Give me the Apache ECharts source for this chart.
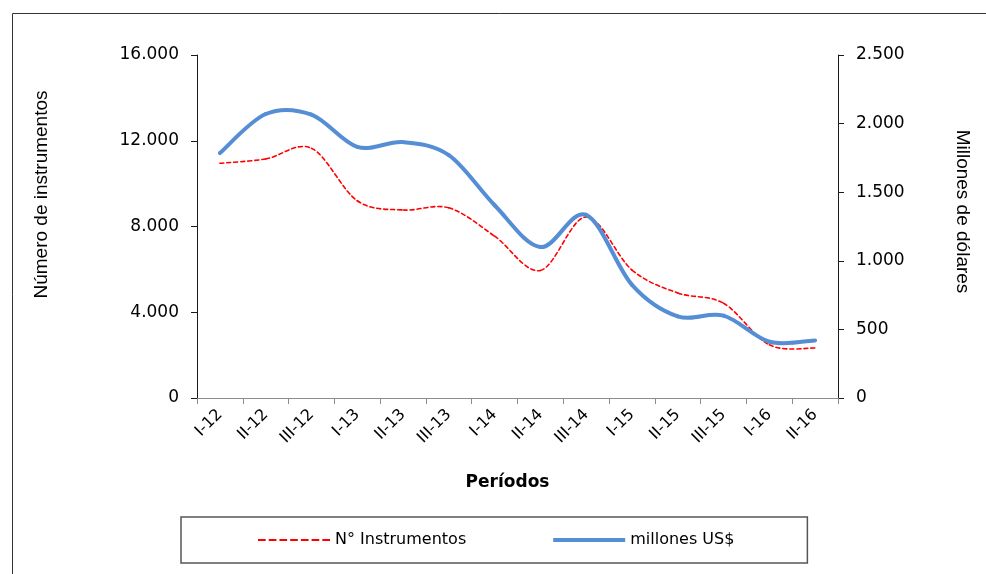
<!DOCTYPE html>
<html>
<head>
<meta charset="utf-8">
<script src="https://cdn.jsdelivr.net/npm/echarts@6/dist/echarts.min.js"></script>
<style>
html,body{margin:0;padding:0;background:#fff;}
#chart{width:986px;height:574px;}
</style>
</head>
<body>
<div id="chart"></div>
<script>
var categories = ['I-12','II-12','III-12','I-13','II-13','III-13','I-14','II-14','III-14','I-15','II-15','III-15','I-16','II-16'];
var instrumentos = [10950, 11150, 11650, 9200, 8770, 8870, 7550, 5950, 8450, 5970, 4900, 4420, 2480, 2330];
var millones = [1785, 2070, 2065, 1830, 1865, 1770, 1405, 1100, 1335, 825, 595, 600, 410, 420];
var leftTicks = { min: 0, max: 16000, interval: 4000 };
var rightTicks = { min: 0, max: 2500, interval: 500 };

function fmt(v) { return String(v).replace(/\B(?=(\d{3})+(?!\d))/g, '.'); }

// Excel-like smoothed line (Catmull-Rom style Bezier through every data point),
// positions obtained from the chart's own axes via api.coord.
function smoothRenderer(values, stroke, width, dash) {
  return function (params, api) {
    if (params.dataIndex !== 0) return;
    var pts = values.map(function (v, i) { return api.coord([i, v]); });
    var t = 1 / 6;
    var children = [];
    for (var i = 0; i < pts.length - 1; i++) {
      var p0 = pts[i - 1] || pts[i], p1 = pts[i], p2 = pts[i + 1], p3 = pts[i + 2] || pts[i + 1];
      children.push({
        type: 'bezierCurve',
        shape: {
          x1: p1[0], y1: p1[1], x2: p2[0], y2: p2[1],
          cpx1: p1[0] + (p2[0] - p0[0]) * t, cpy1: p1[1] + (p2[1] - p0[1]) * t,
          cpx2: p2[0] - (p3[0] - p1[0]) * t, cpy2: p2[1] - (p3[1] - p1[1]) * t
        },
        style: { stroke: stroke, lineWidth: width, fill: null, lineDash: dash || null, lineCap: 'round', lineJoin: 'round' }
      });
    }
    return { type: 'group', children: children };
  };
}

function dashIcon() {
  var d = '';
  for (var k = 0; k < 7; k++) d += 'M' + (k * 10.6) + ',0h7.6v1.8h-7.6z';
  return 'path://' + d;
}

var chart = echarts.init(document.getElementById('chart'), null, { renderer: 'canvas' });
var labelFont = 'DejaVu Sans';
chart.setOption({
  animation: false,
  backgroundColor: '#ffffff',
  graphic: [
    { type: 'rect', shape: { x: 12.5, y: 13.5, width: 1000, height: 600 },
      style: { fill: 'none', stroke: '#333', lineWidth: 1 }, silent: true }
  ],
  grid: { left: 197, right: 148, top: 55, bottom: 176, containLabel: false },
  legend: {
    left: 181, top: 517,
    padding: [15, 73, 15, 77],
    itemGap: 87,
    itemWidth: 72, itemHeight: 16,
    borderColor: '#555', borderWidth: 1.5,
    textStyle: { fontFamily: labelFont, fontSize: 16, color: '#000' },
    data: [
      { name: 'N° Instrumentos', icon: dashIcon() },
      { name: 'millones US$', icon: 'path://M0,0h72v4h-72z' }
    ]
  },
  xAxis: {
    type: 'category', data: categories, boundaryGap: true,
    name: 'Períodos', nameLocation: 'middle', nameGap: 76,
    nameTextStyle: { fontFamily: labelFont, fontSize: 17, fontWeight: 'bold', color: '#000', padding: [0, 20, 0, 0] },
    axisLine: { lineStyle: { color: '#8c8c8c', width: 1 } },
    axisTick: { show: true, length: 6, lineStyle: { color: '#8c8c8c' } },
    axisLabel: { rotate: 45, margin: 14, fontFamily: labelFont, fontSize: 16, color: '#000' },
    splitLine: { show: false }
  },
  yAxis: [
    {
      type: 'value', min: leftTicks.min, max: leftTicks.max, interval: leftTicks.interval,
      name: 'Número de instrumentos', nameLocation: 'middle', nameGap: 146, nameRotate: 90,
      nameTextStyle: { fontFamily: 'Liberation Sans', fontSize: 19, color: '#000', padding: [0, 0, 0, 64] },
      axisLine: { show: true, lineStyle: { color: '#1a1a1a', width: 1 } },
      axisTick: { show: true, length: 6, lineStyle: { color: '#1a1a1a' } },
      axisLabel: { margin: 18, fontFamily: labelFont, fontSize: 17, color: '#000', formatter: fmt },
      splitLine: { show: false }
    },
    {
      type: 'value', min: rightTicks.min, max: rightTicks.max, interval: rightTicks.interval,
      position: 'right',
      name: 'Millones de dólares', nameLocation: 'middle', nameGap: 115, nameRotate: -90,
      nameTextStyle: { fontFamily: 'Liberation Sans', fontSize: 19, color: '#000', padding: [0, 30, 0, 0] },
      axisLine: { show: true, lineStyle: { color: '#1a1a1a', width: 1 } },
      axisTick: { show: true, length: 6, lineStyle: { color: '#1a1a1a' } },
      axisLabel: { margin: 18, fontFamily: labelFont, fontSize: 17, color: '#000', formatter: fmt },
      splitLine: { show: false }
    }
  ],
  series: [
    {
      name: 'N° Instrumentos', type: 'custom', yAxisIndex: 0,
      data: instrumentos.map(function (v, i) { return [i, v]; }),
      encode: { x: 0, y: 1 },
      itemStyle: { color: '#ff0000' },
      renderItem: smoothRenderer(instrumentos, '#ff0000', 1.6, [4, 3])
    },
    {
      name: 'millones US$', type: 'custom', yAxisIndex: 1,
      data: millones.map(function (v, i) { return [i, v]; }),
      encode: { x: 0, y: 1 },
      itemStyle: { color: '#558ed5' },
      renderItem: smoothRenderer(millones, '#558ed5', 4, null)
    }
  ]
});
</script>
</body>
</html>
